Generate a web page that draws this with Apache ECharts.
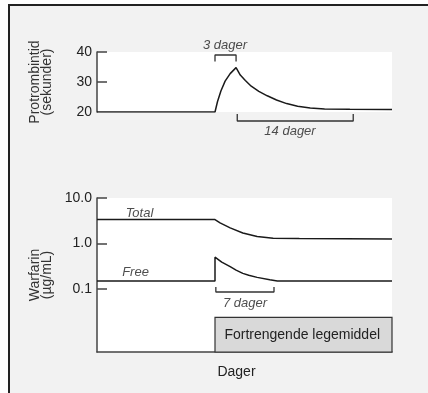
<!DOCTYPE html>
<html>
<head>
<meta charset="utf-8">
<script src="https://cdn.jsdelivr.net/npm/echarts@6/dist/echarts.min.js"></script>
<style>
    html, body { margin: 0; padding: 0; background: #ffffff; }
    #main { width: 428px; height: 393px; }
</style>
</head>
<body>
<div id="main"></div>
<script>
// x axis: days
let dayMax = 35;
let drugStart = 14;

// protrombintid (sekunder)
let ptDays = [0, 14, 14.3, 14.7, 15.2, 15.8, 16.5, 17, 17.6, 18.3, 19.2, 20.2, 21.3, 22.5, 23.8, 25.3, 27, 30, 35];
let ptValues = [20, 20, 23.5, 27, 30.3, 32.8, 34.8, 32.3, 30.5, 28.6, 26.9, 25.4, 24.0, 22.8, 21.9, 21.3, 21.0, 20.9, 20.8];
let ptTicks = [20, 30, 40];

// warfarin (µg/mL)
let totalDays = [0, 14, 14.6, 15.8, 17.3, 19, 20.9, 24, 35];
let totalValues = [3.37, 3.36, 2.85, 2.2, 1.7, 1.42, 1.31, 1.28, 1.25];
let freeDays = [0, 14, 14, 14.8, 15.8, 16.5, 17.3, 18, 19, 20.5, 21.4, 35];
let freeValues = [0.15, 0.15, 0.5, 0.39, 0.31, 0.26, 0.22, 0.2, 0.18, 0.16, 0.15, 0.15];
let warfarinTicks = [0.1, 1, 10];

// brackets: [from, to, leg end, bar level]
let bracket3 = [14, 16.5, 36.8, 39.0];
let bracket14 = [16.64, 30.4, 19.33, 17.0];
let bracket7 = [14.1, 21, 0.1107, 0.0859];

// texts: [day, value, text]
let ptTexts = [[15.18, 42.1, '3 dager'], [22.9, 13.43, '14 dager']];
let warfarinTexts = [[5.04, 4.68, 'Total'], [4.57, 0.237, 'Free'], [17.56, 0.0492, '7 dager']];

// displacing drug box (value range on warfarin axis)
let boxTop = 0.02365;
let warfarinMin = 0.00412;

function zip(xs, ys) {
    let res = [];
    for (let i = 0; i < xs.length; i++) {
        res.push([xs[i], ys[i]]);
    }
    return res;
}

function bracketData(b) {
    return [[b[0], b[2]], [b[0], b[3]], [b[1], b[3]], [b[1], b[2]]];
}

function textSeries(list, idx) {
    return {
        type: 'scatter',
        xAxisIndex: idx,
        yAxisIndex: idx,
        symbolSize: 0,
        silent: true,
        clip: false,
        data: list.map(function (t) { return {value: [t[0], t[1]], name: t[2]}; }),
        label: {
            show: true,
            position: 'inside',
            formatter: '{b}',
            fontFamily: 'Liberation Sans',
            fontStyle: 'italic',
            fontSize: 13,
            color: '#222'
        }
    };
}

let font = 'Liberation Sans';
let lineStyle = {color: '#1a1a1a', width: 1.5};
let bracketStyle = {color: '#333', width: 1.3};

let myChart = echarts.init(document.getElementById('main'), null, {renderer: 'canvas'});
let option = {
    animation: false,
    backgroundColor: '#ffffff',
    textStyle: {fontFamily: font},
    graphic: [
        {
            type: 'rect',
            z: -10,
            shape: {x: 9, y: 5, width: 419, height: 388},
            style: {fill: '#f2f2f2'}
        },
        {
            type: 'polyline',
            z: 100,
            shape: {points: [[9, 393], [9, 5], [428, 5]]},
            style: {stroke: '#222', lineWidth: 2, fill: null}
        }
    ],
    grid: [
        {left: 97, right: 36, top: 52, height: 60, show: true, backgroundColor: '#ffffff', borderWidth: 0},
        {left: 97, right: 36, top: 198, height: 154, show: true, backgroundColor: '#ffffff', borderWidth: 0}
    ],
    xAxis: [
        {gridIndex: 0, type: 'value', min: 0, max: dayMax, show: false},
        {
            gridIndex: 1, type: 'value', min: 0, max: dayMax,
            name: 'Dager',
            nameLocation: 'middle',
            nameGap: 13,
            nameTextStyle: {fontSize: 14, color: '#222', fontFamily: font, padding: [0, 16, 0, 0]},
            axisLine: {show: true, lineStyle: {color: '#444', width: 1.5}},
            axisTick: {show: false},
            axisLabel: {show: false},
            splitLine: {show: false}
        }
    ],
    yAxis: [
        {
            gridIndex: 0, type: 'value', min: 20, max: 40, interval: 10,
            name: 'Protrombintid\n(sekunder)',
            nameLocation: 'middle',
            nameGap: 44,
            nameTextStyle: {fontSize: 14, color: '#333', fontFamily: font, lineHeight: 12},
            axisLine: {show: true, lineStyle: {color: '#444', width: 1.5}},
            axisTick: {show: true, inside: true, length: 10, customValues: [30, 40], lineStyle: {color: '#444', width: 1.5}},
            axisLabel: {customValues: ptTicks, fontSize: 14, color: '#222', margin: 5},
            splitLine: {show: false}
        },
        {
            gridIndex: 1, type: 'log', logBase: 10, min: warfarinMin, max: 10,
            name: 'Warfarin\n(µg/mL)',
            nameLocation: 'middle',
            nameGap: 44,
            nameTextStyle: {fontSize: 14, color: '#333', fontFamily: font, lineHeight: 12},
            axisLine: {show: true, lineStyle: {color: '#444', width: 1.5}},
            axisTick: {show: true, inside: true, length: 10, customValues: warfarinTicks, lineStyle: {color: '#444', width: 1.5}},
            axisLabel: {
                customValues: warfarinTicks, fontSize: 14, color: '#222', margin: 5,
                formatter: function (v) { return Number(v).toFixed(1); }
            },
            splitLine: {show: false}
        }
    ],
    series: [
        {
            name: 'Protrombintid',
            type: 'line',
            xAxisIndex: 0, yAxisIndex: 0,
            showSymbol: false, symbol: 'none',
            lineStyle: lineStyle,
            data: zip(ptDays, ptValues)
        },
        {
            name: 'Total',
            type: 'line',
            xAxisIndex: 1, yAxisIndex: 1,
            symbol: 'none',
            lineStyle: lineStyle,
            data: zip(totalDays, totalValues)
        },
        {
            name: 'Free',
            type: 'line',
            xAxisIndex: 1, yAxisIndex: 1,
            symbol: 'none',
            lineStyle: lineStyle,
            data: zip(freeDays, freeValues),
            markArea: {
                silent: true,
                itemStyle: {color: '#d9d9d9', borderColor: '#333', borderWidth: 1.2},
                label: {
                    show: true,
                    position: 'insideLeft',
                    distance: 10,
                    fontFamily: font,
                    fontSize: 14,
                    color: '#222'
                },
                data: [[
                    {name: 'Fortrengende legemiddel', coord: [drugStart, boxTop]},
                    {coord: [dayMax, warfarinMin]}
                ]]
            }
        },
        // brackets
        {type: 'line', xAxisIndex: 0, yAxisIndex: 0, symbol: 'none', clip: false, silent: true, lineStyle: bracketStyle, data: bracketData(bracket3)},
        {type: 'line', xAxisIndex: 0, yAxisIndex: 0, symbol: 'none', clip: false, silent: true, lineStyle: bracketStyle, data: bracketData(bracket14)},
        {type: 'line', xAxisIndex: 1, yAxisIndex: 1, symbol: 'none', clip: false, silent: true, lineStyle: bracketStyle, data: bracketData(bracket7)},
        textSeries(ptTexts, 0),
        textSeries(warfarinTexts, 1)
    ]
};
myChart.setOption(option);
</script>
</body>
</html>
